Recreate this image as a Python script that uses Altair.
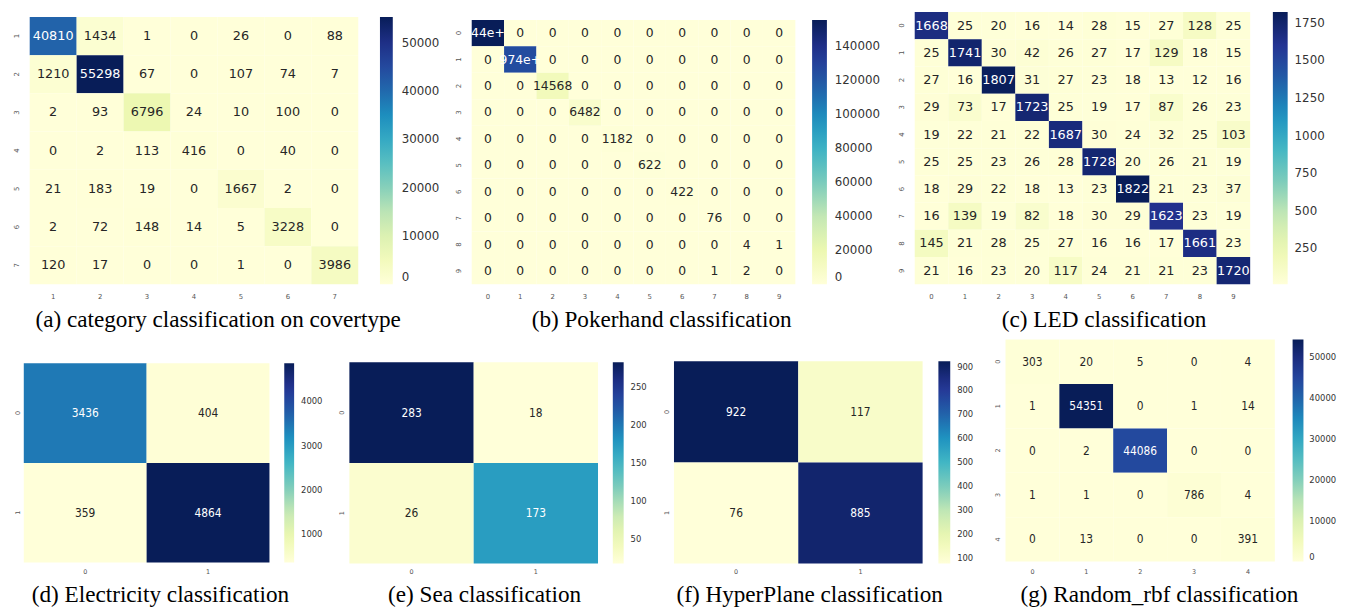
import altair as alt
import pandas as pd

# ---------------- data ----------------
cov_ticks = ["1", "2", "3", "4", "5", "6", "7"]
cov_values = [
    [40810, 1434, 1, 0, 26, 0, 88],
    [1210, 55298, 67, 0, 107, 74, 7],
    [2, 93, 6796, 24, 10, 100, 0],
    [0, 2, 113, 416, 0, 40, 0],
    [21, 183, 19, 0, 1667, 2, 0],
    [2, 72, 148, 14, 5, 3228, 0],
    [120, 17, 0, 0, 1, 0, 3986],
]
cov_cbar = [0, 10000, 20000, 30000, 40000, 50000]

poker_ticks = ["0", "1", "2", "3", "4", "5", "6", "7", "8", "9"]
poker_values = [
    [155440, 0, 0, 0, 0, 0, 0, 0, 0, 0],
    [0, 124974, 0, 0, 0, 0, 0, 0, 0, 0],
    [0, 0, 14568, 0, 0, 0, 0, 0, 0, 0],
    [0, 0, 0, 6482, 0, 0, 0, 0, 0, 0],
    [0, 0, 0, 0, 1182, 0, 0, 0, 0, 0],
    [0, 0, 0, 0, 0, 622, 0, 0, 0, 0],
    [0, 0, 0, 0, 0, 0, 422, 0, 0, 0],
    [0, 0, 0, 0, 0, 0, 0, 76, 0, 0],
    [0, 0, 0, 0, 0, 0, 0, 0, 4, 1],
    [0, 0, 0, 0, 0, 0, 0, 1, 2, 0],
]
poker_visible_text = {(0, 0): "44e+", (1, 1): "974e+"}
poker_cbar = [0, 20000, 40000, 60000, 80000, 100000, 120000, 140000]

led_ticks = ["0", "1", "2", "3", "4", "5", "6", "7", "8", "9"]
led_values = [
    [1668, 25, 20, 16, 14, 28, 15, 27, 128, 25],
    [25, 1741, 30, 42, 26, 27, 17, 129, 18, 15],
    [27, 16, 1807, 31, 27, 23, 18, 13, 12, 16],
    [29, 73, 17, 1723, 25, 19, 17, 87, 26, 23],
    [19, 22, 21, 22, 1687, 30, 24, 32, 25, 103],
    [25, 25, 23, 26, 28, 1728, 20, 26, 21, 19],
    [18, 29, 22, 18, 13, 23, 1822, 21, 23, 37],
    [16, 139, 19, 82, 18, 30, 29, 1623, 23, 19],
    [145, 21, 28, 25, 27, 16, 16, 17, 1661, 23],
    [21, 16, 23, 20, 117, 24, 21, 21, 23, 1720],
]
led_cbar = [250, 500, 750, 1000, 1250, 1500, 1750]

bin_ticks = ["0", "1"]
elec_values = [[3436, 404], [359, 4864]]
elec_cbar = [1000, 2000, 3000, 4000]
sea_values = [[283, 18], [26, 173]]
sea_cbar = [50, 100, 150, 200, 250]
hyper_values = [[922, 117], [76, 885]]
hyper_cbar = [100, 200, 300, 400, 500, 600, 700, 800, 900]

rbf_ticks = ["0", "1", "2", "3", "4"]
rbf_values = [
    [303, 20, 5, 0, 4],
    [1, 54351, 0, 1, 14],
    [0, 2, 44086, 0, 0],
    [1, 1, 0, 786, 4],
    [0, 13, 0, 0, 391],
]
rbf_cbar = [0, 10000, 20000, 30000, 40000, 50000]

captions = [
    "(a) category classification on covertype",
    "(b) Pokerhand classification",
    "(c) LED classification",
    "(d) Electricity classification",
    "(e) Sea classification",
    "(f) HyperPlane classification",
    "(g) Random_rbf classification",
]

# matplotlib / ColorBrewer YlGnBu
YLGNBU = ["#ffffd9", "#edf8b1", "#c7e9b4", "#7fcdbb", "#41b6c4",
          "#1d91c0", "#225ea8", "#253494", "#081d58"]

SANS = "DejaVu Sans"
NARROW = "DejaVu Sans Condensed, Liberation Sans Narrow, DejaVu Sans"
SERIF = "Liberation Serif, Times New Roman, serif"


def panel(values, ticks, cbar, caption, cfg, overrides=None):
    overrides = overrides or {}
    flat = [v for r in values for v in r]
    lo, hi = min(flat), max(flat)
    recs = []
    for i, r in enumerate(values):
        for j, v in enumerate(r):
            recs.append({
                "r": ticks[i], "c": ticks[j], "v": v,
                "lab": overrides.get((i, j), str(v)),
                "dark": (v - lo) / (hi - lo) > 0.47,
            })
    df = pd.DataFrame(recs)
    stops = [lo + k * (hi - lo) / 8 for k in range(9)]
    x0 = cfg.get("x0", 0)

    x = alt.X("c:O", sort=ticks,
              scale=alt.Scale(range=[x0, x0 + cfg["hw"]], paddingInner=0, paddingOuter=0),
              axis=alt.Axis(title=None, labelAngle=0, ticks=False, domain=False,
                            labelFont=SANS, labelFontSize=cfg["axfs"], labelColor="#555555",
                            labelPadding=cfg["xpad"], minExtent=0))
    y = alt.Y("r:O", sort=ticks,
              scale=alt.Scale(range=[cfg["top"], cfg["bot"]], paddingInner=0, paddingOuter=0),
              axis=alt.Axis(title=None, labelAngle=270, ticks=False, domain=False,
                            labelFont=SANS, labelFontSize=cfg["axfs"], labelColor="#555555",
                            labelPadding=cfg["ypad"], offset=cfg.get("yoff", 0), minExtent=0))
    color = alt.Color(
        "v:Q",
        scale=alt.Scale(type="linear", domain=stops, range=YLGNBU, interpolate="rgb"),
        legend=alt.Legend(
            orient="none", legendX=x0 + cfg["hw"] + cfg["gap"], legendY=cfg["top"],
            direction="vertical", gradientLength=cfg["bot"] - cfg["top"],
            gradientThickness=cfg["thick"], gradientStrokeWidth=0,
            values=cbar, format="d", title=None, labelOverlap=False,
            labelFont=cfg["lfont"], labelFontSize=cfg["lfs"], labelColor="#333333",
            labelOffset=cfg["loff"], labelBaseline="middle",
        ),
    )
    rect = alt.Chart(df).mark_rect().encode(x=x, y=y, color=color)
    text = alt.Chart(df).mark_text(font=cfg["cfont"], fontSize=cfg["cfs"]).encode(
        x=x, y=y, text="lab:N",
        color=alt.condition("datum.dark", alt.value("white"), alt.value("#262626")),
    )
    return alt.layer(rect, text).properties(
        width=cfg["W"], height=cfg["H"],
        title=alt.TitleParams(caption, orient="bottom", anchor="middle", frame="group",
                              dx=cfg["dx"], offset=cfg["toff"], font=SERIF, fontSize=23.5,
                              fontWeight="normal", color="black"),
    )


row1 = dict(H=276, axfs=7, xpad=8, ypad=10, lfont=SANS, lfs=12, cfont=SANS, toff=9)
row2 = dict(H=227, axfs=6.5, xpad=5, ypad=5, lfont=NARROW, lfs=9.5, cfont=NARROW, cfs=12, toff=8)

pa = panel(cov_values, cov_ticks, cov_cbar, captions[0],
           dict(row1, hw=333, top=5, bot=276, W=431, gap=22, thick=13, loff=9, cfs=13, dx=-24.5))
pb = panel(poker_values, poker_ticks, poker_cbar, captions[1],
           dict(row1, hw=328, top=8, bot=276, W=431, gap=17, thick=15, loff=8, cfs=12.5, dx=-23),
           overrides=poker_visible_text)
pc = panel(led_values, led_ticks, led_cbar, captions[2],
           dict(row1, hw=340, top=0, bot=276, W=415, gap=23, thick=15, loff=7, cfs=13, dx=-15.5))

pd_ = panel(elec_values, bin_ticks, elec_cbar, captions[3],
            dict(row2, hw=249, x0=-6, yoff=4, top=24, bot=226, W=313, gap=15, thick=10, loff=7, dx=-24))
pe = panel(sea_values, bin_ticks, sea_cbar, captions[4],
           dict(row2, hw=252, top=23, bot=227, W=318, gap=15, thick=11, loff=7, dx=-22))
pf = panel(hyper_values, bin_ticks, hyper_cbar, captions[5],
           dict(row2, hw=252, top=22, bot=227, W=325, gap=16, thick=12, loff=7, dx=-25))
pg = panel(rbf_values, rbf_ticks, rbf_cbar, captions[6],
           dict(row2, hw=273, top=0, bot=225, W=330, gap=18, thick=11, loff=6, dx=-9))

top_row = alt.hconcat(pa, pb, pc, spacing=0).resolve_scale(
    color="independent").resolve_legend(color="independent")
bottom_row = alt.hconcat(pd_, pe, pf, pg, spacing=0).resolve_scale(
    color="independent").resolve_legend(color="independent")

chart = alt.vconcat(top_row, bottom_row, spacing=8).resolve_scale(
    color="independent").resolve_legend(color="independent").properties(
    padding={"left": 4, "top": 0, "right": 0, "bottom": 0}
).configure_view(stroke=None)

chart.save("out.html", embed_options={"renderer": "svg", "actions": False})
